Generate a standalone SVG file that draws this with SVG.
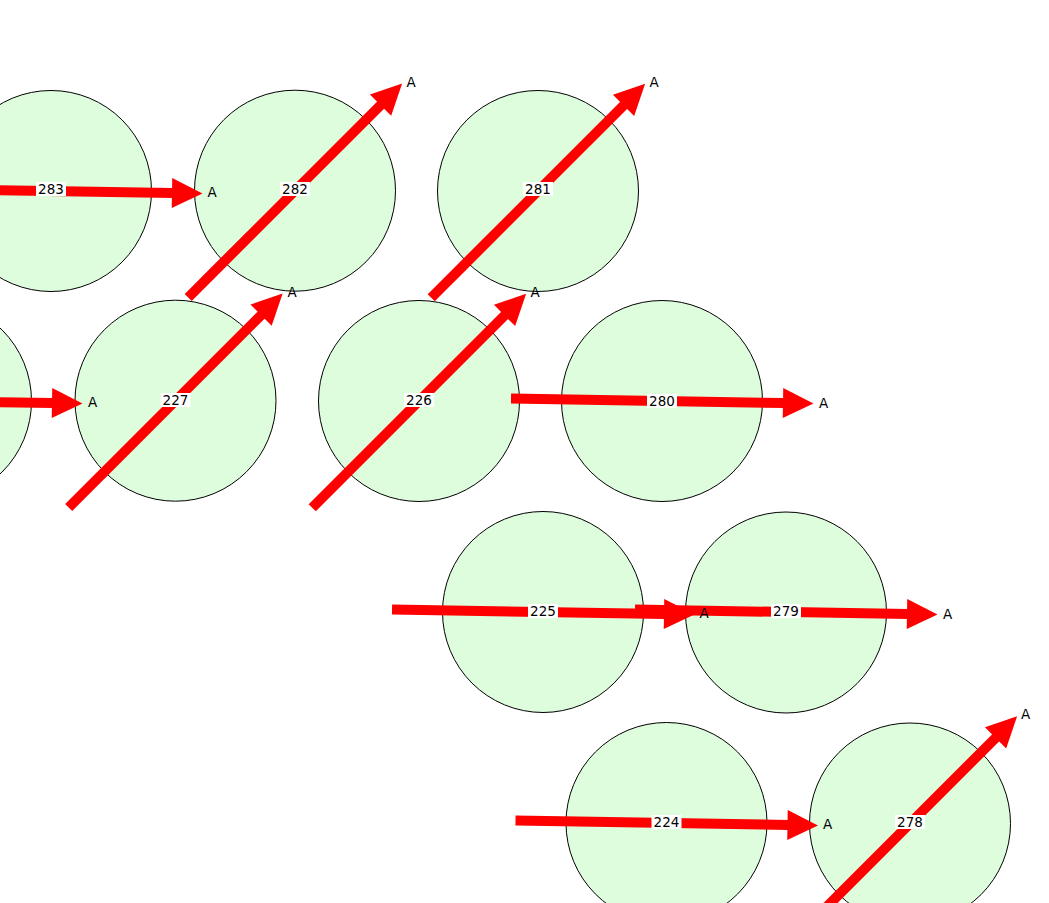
<svg xmlns="http://www.w3.org/2000/svg" width="1049" height="903" viewBox="0 0 1049 903">
<style>
.node{fill:#ddfddd;stroke:#000;stroke-width:1}
.edge line{stroke:#ff0000;stroke-width:10;stroke-linecap:butt}
.edge polygon{fill:#ff0000;stroke:none}
.lbl{font-family:"DejaVu Sans",sans-serif;font-size:13.5px;fill:#000;text-anchor:middle;dominant-baseline:central}
.bg{fill:#fff}
</style>
<defs>
<g id="arrow" class="edge"><line x1="-151" y1="0" x2="122" y2="0"/><polygon points="121,-15 151.5,0 121,15"/></g>
</defs>
<rect width="1049" height="903" fill="#fff"/>
<g id="nodes">
<g id="n283"><circle class="node" cx="51" cy="191" r="100.5"/></g>
<g id="n282"><circle class="node" cx="295" cy="190.7" r="100.5"/></g>
<g id="n281"><circle class="node" cx="538" cy="191" r="100.5"/></g>
<g id="nL"><circle class="node" cx="-69" cy="401" r="100.5"/></g>
<g id="n227"><circle class="node" cx="175.5" cy="400.7" r="100.5"/></g>
<g id="n226"><circle class="node" cx="419" cy="401" r="100.5"/></g>
<g id="n280"><circle class="node" cx="662" cy="401" r="100.5"/></g>
<g id="n225"><circle class="node" cx="543" cy="612" r="100.5"/></g>
<g id="n279"><circle class="node" cx="786" cy="612.5" r="100.5"/></g>
<g id="n224"><circle class="node" cx="666.5" cy="823" r="100.5"/></g>
<g id="n278"><circle class="node" cx="910" cy="823.5" r="100.5"/></g>
</g>
<g id="connectors">
<use href="#arrow" transform="translate(51,191) rotate(0.95)"/>
<use href="#arrow" transform="translate(-69,401) rotate(0.95)"/>
<use href="#arrow" transform="translate(662,401) rotate(0.95)"/>
<use href="#arrow" transform="translate(543,612) rotate(0.95)"/>
<use href="#arrow" transform="translate(786,612) rotate(0.95)"/>
<use href="#arrow" transform="translate(666.5,823) rotate(0.95)"/>
<use href="#arrow" transform="translate(295,190.7) rotate(-45)"/>
<use href="#arrow" transform="translate(538,191) rotate(-45)"/>
<use href="#arrow" transform="translate(175.5,400.7) rotate(-45)"/>
<use href="#arrow" transform="translate(419,401) rotate(-45)"/>
<use href="#arrow" transform="translate(910,823.5) rotate(-45)"/>
</g>
<g id="labels">
<g id="l283"><rect class="bg" x="36" y="182" width="30" height="14"/><text class="lbl" x="51" y="189">283</text></g>
<g id="l282"><rect class="bg" x="280" y="182" width="30" height="14"/><text class="lbl" x="295" y="189">282</text></g>
<g id="l281"><rect class="bg" x="523" y="182" width="30" height="14"/><text class="lbl" x="538" y="189">281</text></g>
<g id="l227"><rect class="bg" x="160.5" y="393" width="30" height="14"/><text class="lbl" x="175.5" y="400">227</text></g>
<g id="l226"><rect class="bg" x="404" y="393" width="30" height="14"/><text class="lbl" x="419" y="400">226</text></g>
<g id="l280"><rect class="bg" x="647" y="394" width="30" height="14"/><text class="lbl" x="662" y="401">280</text></g>
<g id="l225"><rect class="bg" x="528" y="604" width="30" height="14"/><text class="lbl" x="543" y="611">225</text></g>
<g id="l279"><rect class="bg" x="771" y="604" width="30" height="14"/><text class="lbl" x="786" y="611">279</text></g>
<g id="l224"><rect class="bg" x="651.5" y="815" width="30" height="14"/><text class="lbl" x="666.5" y="822">224</text></g>
<g id="l278"><rect class="bg" x="895" y="815" width="30" height="14"/><text class="lbl" x="910" y="822">278</text></g>
</g>
<g id="targets">
<text class="lbl" x="212" y="192">A</text>
<text class="lbl" x="92.5" y="402">A</text>
<text class="lbl" x="823.5" y="403">A</text>
<text class="lbl" x="704" y="613">A</text>
<text class="lbl" x="947.5" y="613.5">A</text>
<text class="lbl" x="827.5" y="824">A</text>
<text class="lbl" x="411" y="81.5">A</text>
<text class="lbl" x="654" y="82">A</text>
<text class="lbl" x="292" y="292">A</text>
<text class="lbl" x="535" y="292">A</text>
<text class="lbl" x="1025.5" y="714">A</text>
</g>
</svg>
